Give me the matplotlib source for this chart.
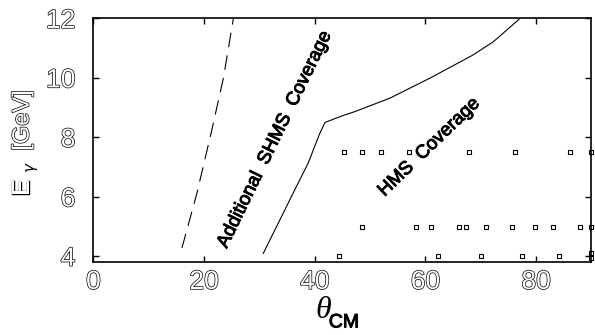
import matplotlib
matplotlib.use("Agg")
import matplotlib.pyplot as plt
import matplotlib.patheffects as pe

plt.rcParams['font.family'] = ['Liberation Sans', 'DejaVu Sans']
plt.rcParams['lines.scale_dashes'] = False

# SHMS additional coverage (dashed) boundary
shms_theta = [16.0, 18.7, 21.4, 23.5, 25.3]
shms_E = [4.28, 6.12, 8.25, 10.0, 12.0]

# HMS coverage boundary (solid)
hms_theta = [30.7, 36.4, 38.8, 40.9, 41.85, 44.6, 47.3, 53.6, 60.8, 68.6, 72.3, 77.1]
hms_E = [4.1, 6.24, 7.13, 8.13, 8.5, 8.7, 8.87, 9.32, 9.99, 10.77, 11.22, 12.0]

# Measurement points
pts_theta_75 = [45.2, 48.6, 52.0, 57.1, 67.9, 76.2, 86.1, 90.0]
pts_E_75 = [7.5] * len(pts_theta_75)
pts_theta_5 = [48.6, 58.3, 61.0, 66.0, 67.3, 71.0, 75.6, 79.8, 83.0, 88.0, 90.0]
pts_E_5 = [5.0] * len(pts_theta_5)
pts_theta_4 = [44.4, 62.2, 70.0, 77.5, 84.2, 90.0, 90.0]
pts_E_4 = [4.0, 4.0, 4.0, 4.0, 4.0, 4.1, 3.95]

xticks = [0, 20, 40, 60, 80]
yticks = [4, 6, 8, 10, 12]

fig = plt.figure(figsize=(5.95, 3.35), dpi=100)
ax = fig.add_axes([0.157, 0.219, 0.837, 0.726])

ax.plot(shms_theta, shms_E, color='black', lw=0.8, dashes=(10.5, 6))
ax.plot(hms_theta, hms_E, color='black', lw=0.8)
for th, e in [(pts_theta_75, pts_E_75), (pts_theta_5, pts_E_5), (pts_theta_4, pts_E_4)]:
    ax.plot(th, e, ls='none', marker='s', ms=3.2, mfc='white', mec='black', mew=0.8, clip_on=False)

ax.set_xlim(0, 90)
ax.set_ylim(3.82, 12)
ax.set_xticks(xticks)
ax.set_yticks(yticks)
ax.tick_params(direction='in', length=4, width=1.0, top=True, right=True,
               labelsize=19)
ax.tick_params(axis='y', pad=13)
ax.tick_params(axis='x', pad=6)
for s in ax.spines.values():
    s.set_linewidth(1.2)

outline = [pe.withStroke(linewidth=1.0, foreground='black')]
for lab in ax.get_xticklabels() + ax.get_yticklabels():
    lab.set_color('white')
    lab.set_path_effects(outline)

thick = [pe.withStroke(linewidth=0.7, foreground='black')]
ax.text(32.8, 7.92, 'Additional  SHMS  Coverage', rotation=64, rotation_mode='anchor',
        ha='center', va='center', fontsize=13.5, path_effects=thick)
ax.text(60.7, 7.66, 'HMS  Coverage', rotation=44, rotation_mode='anchor',
        ha='center', va='center', fontsize=13.5, path_effects=thick)

# y label
fig.text(0.038, 0.44, 'E', rotation=90, ha='center', va='center', fontsize=17,
         color='white', path_effects=outline)
fig.text(0.054, 0.50, r'$\gamma$', rotation=90, ha='center', va='center', fontsize=11)
fig.text(0.038, 0.64, '[GeV]', rotation=90, ha='center', va='center', fontsize=17,
         color='white', path_effects=outline)

# x label
fig.text(0.543, 0.072, 'θ', ha='center', va='center', fontsize=23,
         family=['Liberation Serif', 'DejaVu Serif'], style='italic')
fig.text(0.578, 0.036, 'CM', ha='center', va='center', fontsize=14, path_effects=thick)

fig.savefig('out.png', dpi=100)
